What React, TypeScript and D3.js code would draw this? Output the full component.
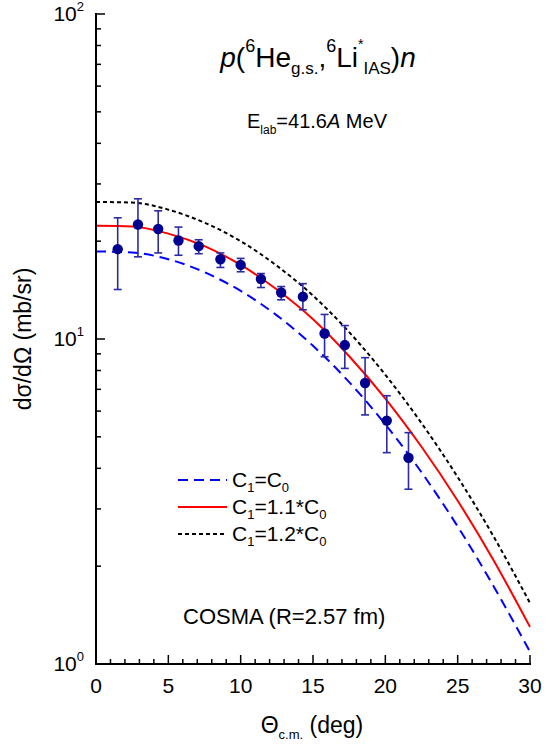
import React from 'react';
import * as d3 from 'd3';

// measured cross sections (mb/sr)
const angles = [1.5, 2.9, 4.3, 5.7, 7.1, 8.6, 10.0, 11.4, 12.8, 14.3, 15.8, 17.2, 18.6, 20.1, 21.6];
const sigma = [18.9, 22.5, 21.8, 20.1, 19.3, 17.6, 16.9, 15.3, 13.9, 13.5, 10.4, 9.58, 7.32, 5.61, 4.31];
const sigmaLo = [14.2, 17.9, 18.4, 18.1, 18.3, 16.6, 16.1, 14.4, 13.2, 12.3, 8.82, 8.12, 5.84, 4.47, 3.45];
const sigmaHi = [23.6, 27.0, 24.8, 22.1, 20.2, 18.4, 17.7, 15.9, 14.5, 14.8, 11.9, 11.0, 8.76, 6.69, 5.15];

// COSMA curves
const curveAngles = [0, 2.5, 5, 7.5, 10, 12.5, 15, 17.5, 20, 22.5, 25, 27.5, 30];
const cosmaC0 = [18.6, 18.45, 17.6, 16.05, 14.06, 11.82, 9.53, 7.37, 5.46, 3.89, 2.65, 1.73, 1.09];
const cosma11 = [22.3, 22.2, 21.1, 19.3, 16.9, 14.2, 11.5, 8.85, 6.56, 4.66, 3.18, 2.08, 1.30];
const cosma12 = [26.4, 26.3, 25.0, 22.8, 20.0, 16.8, 13.6, 10.5, 7.76, 5.51, 3.76, 2.46, 1.54];

const xTicks = [0, 5, 10, 15, 20, 25, 30];
const yDecades = [1, 10, 100];
const legendLabels = ['=C', '=1.1*C', '=1.2*C'];

const font = 'Liberation Sans, Arial, Helvetica, sans-serif';

export default function App() {
  const W = 547;
  const H = 744;
  const x = d3.scaleLinear().domain([0, 30]).range([96, 530]);
  const y = d3.scaleLog().domain([1, 100]).range([664, 14]);

  const line = (vals: number[]) =>
    d3.line<number>()
      .x((d, i) => x(curveAngles[i]))
      .y(d => y(d))
      .curve(d3.curveMonotoneX)(vals) as string;

  const minorX = d3.range(0, 31, 1);
  const minorY = y.ticks();

  const styles = [
    { dash: '10,6', color: '#0000ff' },
    { dash: '', color: '#ff0000' },
    { dash: '4,3', color: '#000000' },
  ];

  return (
    <svg width={W} height={H} style={{ position: 'absolute', left: 0, top: 0, background: '#fff' }}
      fontFamily={font}>
      {/* curves */}
      <path d={line(cosmaC0)} fill="none" stroke="#0000ff" strokeWidth={2} strokeDasharray="10,6" />
      <path d={line(cosma11)} fill="none" stroke="#ff0000" strokeWidth={2} />
      <path d={line(cosma12)} fill="none" stroke="#000" strokeWidth={2} strokeDasharray="4,3" />

      {/* data with error bars */}
      {angles.map((a, i) => (
        <g key={i} stroke="#2b2ba6" strokeWidth={1.6}>
          <line x1={x(a)} x2={x(a)} y1={y(sigmaLo[i])} y2={y(sigmaHi[i])} />
          <line x1={x(a) - 4} x2={x(a) + 4} y1={y(sigmaLo[i])} y2={y(sigmaLo[i])} />
          <line x1={x(a) - 4} x2={x(a) + 4} y1={y(sigmaHi[i])} y2={y(sigmaHi[i])} />
          <circle cx={x(a)} cy={y(sigma[i])} r={5.2} fill="#000090" stroke="none" />
        </g>
      ))}

      {/* axes */}
      <line x1={96} x2={96} y1={13} y2={665} stroke="#000" strokeWidth={2} />
      <line x1={95} x2={531} y1={664} y2={664} stroke="#000" strokeWidth={2} />
      {minorY.map((v, i) => {
        const major = yDecades.includes(v);
        return <line key={i} x1={96} x2={96 + (major ? 9 : 5)} y1={y(v)} y2={y(v)} stroke="#000" strokeWidth={1.5} />;
      })}
      {minorX.map(v => {
        const major = v % 5 === 0;
        return <line key={v} x1={x(v)} x2={x(v)} y1={664} y2={664 - (major ? 9 : 5)} stroke="#000" strokeWidth={1.5} />;
      })}
      {xTicks.map(v => (
        <text key={v} x={x(v)} y={693} fontSize={21} textAnchor="middle">{v}</text>
      ))}
      {yDecades.map((v, i) => (
        <text key={v} x={84} y={y(v) + 7} fontSize={21} textAnchor="end">
          10<tspan fontSize={13} dy={-10}>{i}</tspan>
        </text>
      ))}

      {/* axis titles */}
      <text x={312} y={733} fontSize={23} textAnchor="middle">
        Θ<tspan fontSize={13} dy={6}>c.m.</tspan><tspan dy={-6}> (deg)</tspan>
      </text>
      <text transform="translate(31,339) rotate(-90)" fontSize={23} textAnchor="middle">dσ/dΩ (mb/sr)</text>

      {/* annotations */}
      <text x={318} y={67} fontSize={28} textAnchor="middle">
        <tspan fontStyle="italic">p</tspan>(<tspan fontSize={18} dy={-15}>6</tspan>
        <tspan dy={15}>He</tspan><tspan fontSize={17} dy={7}>g.s.</tspan>
        <tspan dy={-7}>,</tspan><tspan fontSize={18} dy={-15}>6</tspan>
        <tspan dy={15}>Li</tspan><tspan fontSize={14} dy={-18}>*</tspan>
        <tspan fontSize={17} dy={25}>IAS</tspan><tspan dy={-7}>)</tspan>
        <tspan fontStyle="italic">n</tspan>
      </text>
      <text x={317} y={128} fontSize={20} textAnchor="middle">
        E<tspan fontSize={12} dy={6}>lab</tspan><tspan dy={-6}>=41.6</tspan>
        <tspan fontStyle="italic">A</tspan> MeV
      </text>

      {/* legend */}
      {legendLabels.map((lab, i) => {
        const by = 487 + i * 27;
        const s = styles[i];
        return (
          <g key={i}>
            <line x1={178} x2={227} y1={by - 7} y2={by - 7} stroke={s.color} strokeWidth={2}
              strokeDasharray={s.dash || undefined} />
            <text x={232} y={by} fontSize={21}>
              C<tspan fontSize={13} dy={5}>1</tspan><tspan dy={-5}>{lab}</tspan>
              <tspan fontSize={13} dy={5}>0</tspan>
            </text>
          </g>
        );
      })}
      <text x={183} y={624} fontSize={22}>COSMA (R=2.57 fm)</text>
    </svg>
  );
}
